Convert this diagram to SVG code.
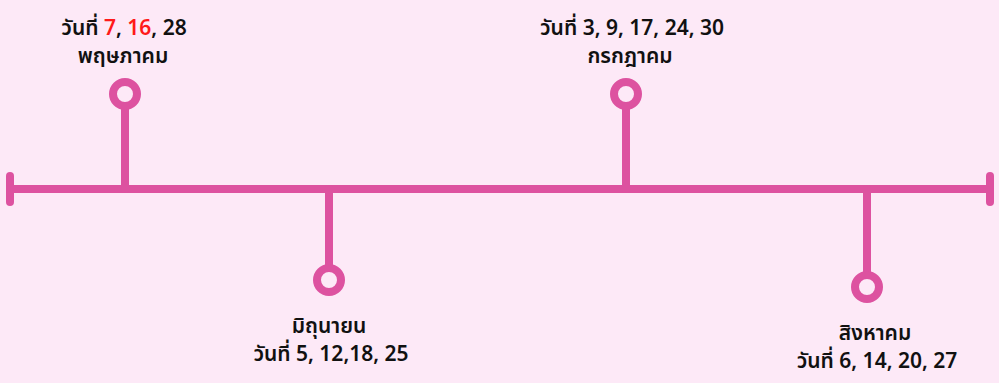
<svg xmlns="http://www.w3.org/2000/svg" width="999" height="383" viewBox="0 0 999 383">
<style>
.ln{stroke:#DD52A0;stroke-width:8;stroke-linecap:round;fill:none}
.ring{stroke:#DD52A0;stroke-width:8;fill:#FDE9F7}
.t{font-family:"Noto Sans Thai","Noto Sans","DejaVu Sans",sans-serif;font-size:21px;font-weight:600;fill:#111;text-anchor:middle}
.r{fill:#FF1A1A}
</style>
<rect width="999" height="383" fill="#FDE9F7"/>
<g id="connectors">
<line class="ln" x1="10" y1="189" x2="990" y2="189"/>
<line class="ln" x1="10" y1="176" x2="10" y2="202"/>
<line class="ln" x1="990" y1="176" x2="990" y2="202"/>
<line class="ln" x1="125" y1="106" x2="125" y2="189"/>
<line class="ln" x1="329" y1="189" x2="329" y2="268"/>
<line class="ln" x1="626" y1="106" x2="626" y2="189"/>
<line class="ln" x1="867" y1="189" x2="867" y2="275"/>
</g>
<g id="may">
<circle class="ring" cx="125" cy="94" r="12"/>
<text class="t" x="124" y="35">วันที่ <tspan class="r">7</tspan>, <tspan class="r">16</tspan>, 28</text>
<text class="t" x="123" y="63">พฤษภาคม</text>
</g>
<g id="june">
<circle class="ring" cx="329" cy="280" r="12"/>
<text class="t" x="329" y="333">มิถุนายน</text>
<text class="t" x="331" y="361">วันที่ 5, 12,18, 25</text>
</g>
<g id="july">
<circle class="ring" cx="626" cy="94" r="12"/>
<text class="t" x="632" y="35">วันที่ 3, 9, 17, 24, 30</text>
<text class="t" x="630" y="63">กรกฎาคม</text>
</g>
<g id="august">
<circle class="ring" cx="867" cy="287" r="12"/>
<text class="t" x="875" y="340">สิงหาคม</text>
<text class="t" x="877" y="368">วันที่ 6, 14, 20, 27</text>
</g>
</svg>
